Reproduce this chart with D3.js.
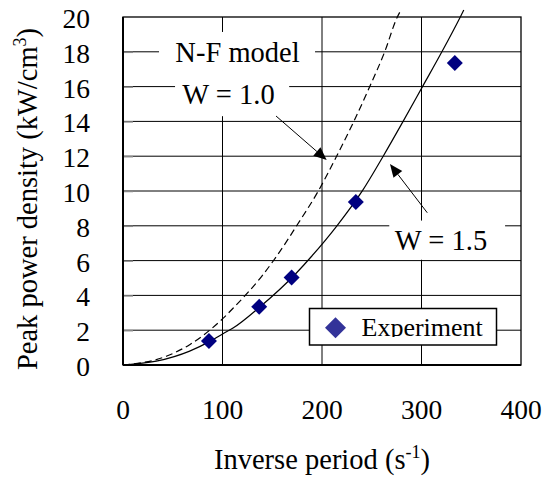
<!DOCTYPE html>
<html><head><meta charset="utf-8">
<script src="https://cdn.jsdelivr.net/npm/d3@7"></script>
<style>body{margin:0;background:#fff}svg{display:block}</style>
</head><body>
<svg id="c" width="549" height="478" font-family="'Liberation Serif','Times New Roman',Times,serif"></svg>
<script>
// ---- data ----
const expX = [86.4, 136.9, 169.5, 234, 333.5];
const expY = [1.38, 3.35, 5.03, 9.37, 17.35];
// N-F model, W = 1.5 (solid)
const w15X = [0, 33.5, 67, 86.4, 100.5, 110.6, 136.9, 174.5, 189.6, 215, 241, 261.5, 281.5, 301, 320.5, 339, 342.5];
const w15Y = [0, 0.22, 0.8, 1.33, 1.8, 2.12, 3.3, 5.3, 6.25, 8.0, 10.05, 12.0, 14.0, 16.0, 18.0, 20.0, 20.4];
// N-F model, W = 1.0 (dashed)
const w10X = [0, 43.5, 67, 100.5, 110.6, 139.4, 154.4, 174.5, 196.3, 214.7, 232, 248, 263, 275.7, 279.4];
const w10Y = [0, 0.5, 1.17, 2.68, 3.26, 5.1, 6.25, 8.0, 10.0, 12.0, 14.0, 16.0, 18.0, 20.0, 20.4];
const xTicks = [0, 100, 200, 300, 400];
const yTicks = [0, 2, 4, 6, 8, 10, 12, 14, 16, 18, 20];

const svg = d3.select("#c");
const x = d3.scaleLinear().domain([0, 400]).range([123, 521]);
const y = d3.scaleLinear().domain([0, 20]).range([365, 17]);

// grid
const g = svg.append("g");
g.selectAll(".hg").data(yTicks.slice(1, -1)).join("line")
  .attr("x1", x(0)).attr("x2", x(400)).attr("y1", d => y(d)).attr("y2", d => y(d))
  .attr("stroke", "#000").attr("stroke-width", 1);
g.selectAll(".vg").data(xTicks.slice(1, -1)).join("line")
  .attr("x1", d => x(d)).attr("x2", d => x(d)).attr("y1", y(0)).attr("y2", y(20))
  .attr("stroke", "#000").attr("stroke-width", 1);
// inner tick marks on left axis
g.selectAll(".tk").data(yTicks.slice(1, -1)).join("line")
  .attr("x1", x(0)).attr("x2", x(0) + 10).attr("y1", d => y(d) + 0.5).attr("y2", d => y(d) + 0.5)
  .attr("stroke", "#888").attr("stroke-width", 1.5);

// label boxes (white backgrounds hiding the grid)
function box(x0, y0, x1, y1) {
  svg.append("rect").attr("x", x(x0)).attr("y", y(y1)).attr("width", x(x1) - x(x0)).attr("height", y(y0) - y(y1)).attr("fill", "#fff");
}
box(36.2, 16.9, 193, 19.14);
box(52.3, 14.3, 167, 16.95);
box(267.6, 6.05, 384, 8.3);

// frame
svg.append("rect").attr("x", x(0)).attr("y", y(20)).attr("width", x(400) - x(0)).attr("height", y(0) - y(20))
  .attr("fill", "none").attr("stroke", "#000").attr("stroke-width", 1.3);
svg.append("line").attr("x1", x(0)).attr("x2", x(400)).attr("y1", y(0)).attr("y2", y(0)).attr("stroke", "#000").attr("stroke-width", 2);
svg.append("line").attr("x1", x(0)).attr("x2", x(0)).attr("y1", y(0)).attr("y2", y(20)).attr("stroke", "#000").attr("stroke-width", 2);

// tick labels
svg.selectAll(".yl").data(yTicks).join("text")
  .attr("x", 90).attr("y", d => y(d) + 11).attr("text-anchor", "end").attr("font-size", 27.5).text(d => d);
svg.selectAll(".xl").data(xTicks).join("text")
  .attr("x", d => x(d)).attr("y", 419).attr("text-anchor", "middle").attr("font-size", 27.5).text(d => d);

// axis titles
const xt = svg.append("text").attr("x", 322).attr("y", 469).attr("text-anchor", "middle").attr("font-size", 28.5);
xt.append("tspan").text("Inverse period (s");
xt.append("tspan").attr("font-size", 18).attr("dy", -11).text("-1");
xt.append("tspan").attr("dy", 11).text(")");
const yt = svg.append("text").attr("transform", "translate(37,199) rotate(-90)").attr("text-anchor", "middle").attr("font-size", 28.5);
yt.append("tspan").text("Peak power density (kW/cm");
yt.append("tspan").attr("font-size", 18).attr("dy", -11).text("3");
yt.append("tspan").attr("dy", 11).text(")");

// curves
const line = d3.line().x(d => x(d[0])).y(d => y(d[1])).curve(d3.curveMonotoneX);
svg.append("path").datum(d3.zip(w10X, w10Y)).attr("d", line).attr("fill", "none")
  .attr("stroke", "#000").attr("stroke-width", 1.2).attr("stroke-dasharray", "7,4");
svg.append("path").datum(d3.zip(w15X, w15Y)).attr("d", line).attr("fill", "none")
  .attr("stroke", "#000").attr("stroke-width", 1.2);

// experiment points
const dia = r => `M0,${-r}L${r},0L0,${r}L${-r},0Z`;
svg.selectAll(".pt").data(d3.zip(expX, expY)).join("path")
  .attr("transform", d => `translate(${x(d[0])},${y(d[1])})`).attr("d", dia(8)).attr("fill", "#000080");

// annotation labels
svg.append("text").attr("x", 237.5).attr("y", 61.5).attr("text-anchor", "middle").attr("font-size", 28.5).text("N-F model");
svg.append("text").attr("x", 228.5).attr("y", 103.5).attr("text-anchor", "middle").attr("font-size", 28.5).text("W = 1.0");
svg.append("text").attr("x", 441).attr("y", 250).attr("text-anchor", "middle").attr("font-size", 28.5).text("W = 1.5");

// arrows
function arrow(x0, y0, x1, y1) {
  const X0 = x(x0), Y0 = y(y0), X1 = x(x1), Y1 = y(y1);
  const a = Math.atan2(Y1 - Y0, X1 - X0), L = 13, W = 5.5;
  const bx = X1 - L * Math.cos(a), by = Y1 - L * Math.sin(a);
  svg.append("line").attr("x1", X0).attr("y1", Y0).attr("x2", bx).attr("y2", by).attr("stroke", "#000").attr("stroke-width", 1);
  svg.append("path").attr("d", `M${X1},${Y1}L${bx - W * Math.sin(a)},${by + W * Math.cos(a)}L${bx + W * Math.sin(a)},${by - W * Math.cos(a)}Z`).attr("fill", "#000");
}
arrow(153.8, 14.31, 204.7, 11.78);
arrow(305.8, 8.75, 268.3, 11.55);

// legend
svg.append("rect").attr("x", 309.5).attr("y", 308.5).attr("width", 187).attr("height", 36.5)
  .attr("fill", "#fff").attr("stroke", "#000").attr("stroke-width", 1.5);
svg.append("path").attr("transform", "translate(335.5,327.7)").attr("d", dia(10.5)).attr("fill", "#333399");
svg.append("clipPath").attr("id", "lc").append("rect").attr("x", 310).attr("y", 309).attr("width", 186).attr("height", 28);
svg.append("text").attr("x", 361.5).attr("y", 336.3).attr("font-size", 26).attr("clip-path", "url(#lc)").text("Experiment");
</script>
</body></html>
